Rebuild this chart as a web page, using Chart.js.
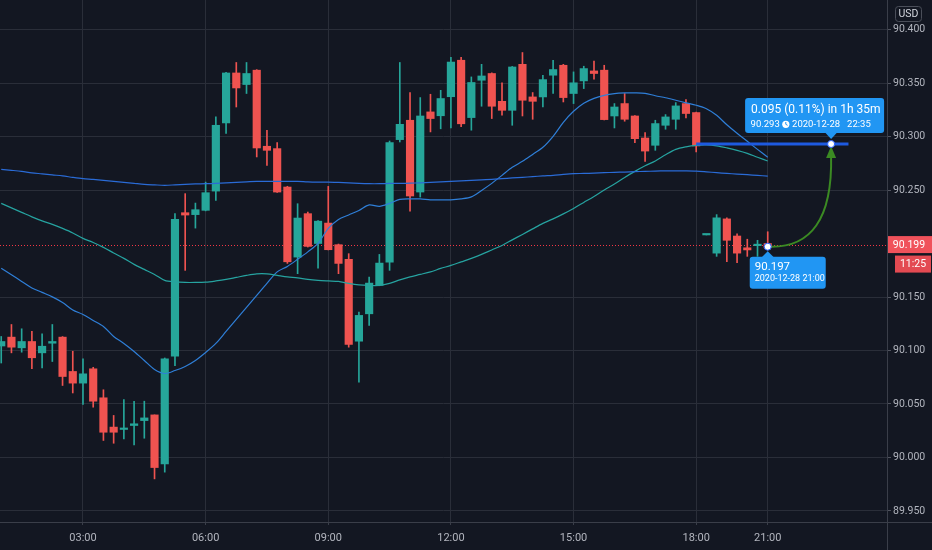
<!DOCTYPE html>
<html><head><meta charset="utf-8">
<script src="https://cdn.jsdelivr.net/npm/chart.js@4.4.1/dist/chart.umd.min.js"></script>
<style>html,body{margin:0;padding:0;background:#131722;overflow:hidden}canvas{display:block}</style>
</head><body>
<canvas id="c" width="932" height="550"></canvas>
<script>
// ---- DATA (15-minute candles, index 0 = 01:00) ----
const openP = [90.1042,90.1125,90.1025,90.1084,90.0978,90.1068,90.1125,90.0804,90.0695,90.0829,
90.0558,90.0284,90.0262,90.0299,90.0345,90.0398,89.9941,90.0947,90.2288,90.2270,
90.2310,90.2490,90.3127,90.3594,90.3486,90.3620,90.2909,90.2887,90.2528,90.1873,
90.2279,90.2000,90.2191,90.1989,90.1852,90.1087,90.1343,90.1608,90.1826,90.2971,
90.3152,90.2481,90.3230,90.3194,90.3372,90.3713,90.3177,90.3526,90.3589,90.3329,
90.3245,90.3675,90.3370,90.3370,90.3573,90.3666,90.3402,90.3520,90.3613,90.3620,
90.3192,90.3308,90.3192,90.2986,90.2918,90.3105,90.3161,90.3308,90.3224,90.2080,
90.1910,90.2230,90.2070,90.1960,90.1980,90.2000];
const highP = [90.1131,90.1243,90.1203,90.1178,90.1156,90.1243,90.1130,90.0993,90.0922,90.0843,
90.0633,90.0393,90.0542,90.0526,90.0526,90.0398,90.0930,90.2279,90.2466,90.2378,
90.2574,90.3183,90.3600,90.3692,90.3692,90.3625,90.3059,90.2943,90.2535,90.2372,
90.2294,90.2215,90.2534,90.1995,90.1905,90.1359,90.1686,90.1898,90.2958,90.3692,
90.3411,90.3364,90.3395,90.3432,90.3741,90.3741,90.3557,90.3675,90.3595,90.3501,
90.3655,90.3785,90.3411,90.3573,90.3713,90.3675,90.3604,90.3657,90.3704,90.3666,
90.3308,90.3402,90.3195,90.3036,90.3152,90.3205,90.3317,90.3346,90.3228,90.2080,
90.2270,90.2240,90.2090,90.2040,90.2030,90.2110];
const lowP = [90.0883,90.0978,90.0984,90.0829,90.0838,90.0897,90.0673,90.0603,90.0495,90.0470,
90.0159,90.0133,90.0174,90.0118,90.0180,89.9800,89.9863,90.0859,90.1749,90.2144,
90.2305,90.2403,90.3028,90.3276,90.3402,90.2809,90.2731,90.2478,90.1814,90.1718,
90.1967,90.1770,90.1940,90.1718,90.1031,90.0704,90.1234,90.1605,90.1749,90.2949,
90.2303,90.2434,90.3043,90.3072,90.3081,90.3091,90.3059,90.3283,90.3168,90.3199,
90.3105,90.3192,90.3161,90.3276,90.3402,90.3323,90.3308,90.3448,90.3536,90.3155,
90.3080,90.3143,90.2943,90.2768,90.2871,90.3068,90.3068,90.3173,90.2856,90.2080,
90.1880,90.1830,90.1820,90.1880,90.1880,90.1950];
const closeP = [90.1084,90.1031,90.1084,90.0932,90.1040,90.1084,90.0757,90.0695,90.0782,90.0526,
90.0236,90.0236,90.0274,90.0315,90.0370,89.9906,90.0922,90.2226,90.2266,90.2316,
90.2475,90.3105,90.3594,90.3454,90.3589,90.2893,90.2871,90.2481,90.1829,90.2238,
90.1973,90.2209,90.1942,90.1814,90.1056,90.1328,90.1630,90.1817,90.2943,90.3114,
90.2444,90.3192,90.3168,90.3355,90.3696,90.3119,90.3505,90.3566,90.3283,90.3245,
90.3650,90.3339,90.3329,90.3532,90.3626,90.3364,90.3502,90.3635,90.3589,90.3158,
90.3276,90.3161,90.2980,90.2864,90.3121,90.3183,90.3286,90.3215,90.2912,90.2080,
90.2240,90.2030,90.1910,90.1940,90.1990,90.1960];

// moving averages
const maLong = [90.2693,90.2684,90.2674,90.2660,90.2651,90.2641,90.2632,90.2618,90.2606,90.2599,
90.2590,90.2581,90.2571,90.2562,90.2553,90.2548,90.2544,90.2548,90.2553,90.2557,
90.2559,90.2562,90.2567,90.2571,90.2576,90.2581,90.2581,90.2581,90.2581,90.2581,
90.2576,90.2574,90.2574,90.2571,90.2567,90.2562,90.2559,90.2559,90.2562,90.2562,
90.2564,90.2567,90.2571,90.2576,90.2581,90.2585,90.2590,90.2595,90.2599,90.2606,
90.2613,90.2618,90.2625,90.2632,90.2637,90.2646,90.2653,90.2655,90.2658,90.2662,
90.2665,90.2668,90.2672,90.2674,90.2677,90.2679,90.2679,90.2679,90.2677,90.2670,
90.2662,90.2655,90.2649,90.2643,90.2637,90.2630];
const maMid = [90.2375,90.2333,90.2291,90.2249,90.2211,90.2179,90.2141,90.2099,90.2048,90.2010,
90.1964,90.1912,90.1861,90.1805,90.1758,90.1711,90.1655,90.1641,90.1636,90.1636,
90.1639,90.1650,90.1664,90.1683,90.1702,90.1716,90.1716,90.1702,90.1688,90.1678,
90.1664,90.1655,90.1650,90.1646,90.1627,90.1613,90.1608,90.1608,90.1627,90.1660,
90.1688,90.1711,90.1735,90.1767,90.1795,90.1828,90.1861,90.1898,90.1940,90.1982,
90.2034,90.2085,90.2137,90.2188,90.2230,90.2277,90.2328,90.2384,90.2440,90.2501,
90.2557,90.2618,90.2674,90.2726,90.2772,90.2829,90.2880,90.2904,90.2918,90.2922,
90.2913,90.2894,90.2871,90.2843,90.2806,90.2771];
const maShort = [90.1768,90.1707,90.1646,90.1585,90.1543,90.1501,90.1449,90.1379,90.1337,90.1281,
90.1225,90.1131,90.1066,90.0991,90.0907,90.0823,90.0785,90.0813,90.0851,90.0907,
90.0981,90.1066,90.1178,90.1290,90.1403,90.1515,90.1627,90.1735,90.1786,90.1852,
90.1922,90.2001,90.2141,90.2225,90.2267,90.2309,90.2361,90.2347,90.2375,90.2412,
90.2417,90.2417,90.2408,90.2408,90.2408,90.2417,90.2436,90.2496,90.2562,90.2637,
90.2712,90.2768,90.2833,90.2899,90.3002,90.3133,90.3236,90.3311,90.3357,90.3385,
90.3401,90.3407,90.3408,90.3404,90.3381,90.3362,90.3339,90.3315,90.3292,90.3259,
90.3198,90.3110,90.3030,90.2955,90.2880,90.2806];

const tickIndex  = [8, 20, 32, 44, 56, 68, 75];
const tickLabels = ['03:00','06:00','09:00','12:00','15:00','18:00','21:00'];
const yTicks = [89.95,90.00,90.05,90.10,90.15,90.20,90.25,90.30,90.35,90.40];

const currentPrice = 90.199;
const countdown = '11:25';
const hLine = {from: 68, to: 82.9, price: 90.293};
const measureFrom = {index: 75, price: 90.197, date: '2020-12-28 21:00'};
const measureTo = {index: 81.2, price: 90.293, date: '2020-12-28', time: '22:35'};
const measureText = '0.095 (0.11%) in 1h 35m';

// ---- STYLE ----
const UP = '#26a69a', DOWN = '#ef5350';
const FONT = 'Roboto, "Liberation Sans", sans-serif';
const GRID = '#2a2e39', BORDER = '#3a3e49';
Chart.defaults.font.family = FONT;
Chart.defaults.color = '#b2b5be';

const candleColor = closeP.map((c, i) => c >= openP[i] ? UP : DOWN);

function rr(ctx, x, y, w, h, r) {
  ctx.beginPath();
  ctx.moveTo(x + r, y); ctx.lineTo(x + w - r, y); ctx.quadraticCurveTo(x + w, y, x + w, y + r);
  ctx.lineTo(x + w, y + h - r); ctx.quadraticCurveTo(x + w, y + h, x + w - r, y + h);
  ctx.lineTo(x + r, y + h); ctx.quadraticCurveTo(x, y + h, x, y + h - r);
  ctx.lineTo(x, y + r); ctx.quadraticCurveTo(x, y, x + r, y); ctx.closePath();
}

const overlay = {
  id: 'overlay',
  beforeDatasetsDraw(chart) {
    const {ctx, chartArea: a, scales: {y}} = chart;
    const py = Math.round(y.getPixelForValue(currentPrice)) + 0.5;
    ctx.save();
    ctx.strokeStyle = '#f23645'; ctx.lineWidth = 1; ctx.setLineDash([1, 2]);
    ctx.beginPath(); ctx.moveTo(a.left, py); ctx.lineTo(a.right, py); ctx.stroke();
    ctx.restore();
  },
  afterDatasetsDraw(chart) {
    const {ctx, scales: {x, y}} = chart;
    ctx.save();
    // horizontal line
    const hy = y.getPixelForValue(hLine.price);
    ctx.strokeStyle = '#1e5ae0'; ctx.lineWidth = 3;
    ctx.beginPath(); ctx.moveTo(x.getPixelForValue(hLine.from), hy); ctx.lineTo(x.getPixelForValue(hLine.to), hy); ctx.stroke();
    // arrow
    const sx = x.getPixelForValue(measureFrom.index), sy = y.getPixelForValue(measureFrom.price);
    const tx = x.getPixelForValue(measureTo.index), ty = y.getPixelForValue(measureTo.price);
    ctx.strokeStyle = '#3b8a23'; ctx.lineWidth = 2;
    ctx.beginPath(); ctx.moveTo(sx, sy); ctx.quadraticCurveTo(tx + 2, sy + 3, tx, ty + 12); ctx.stroke();
    ctx.fillStyle = '#3b8a23';
    ctx.beginPath(); ctx.moveTo(tx, ty + 2); ctx.lineTo(tx - 5, ty + 14); ctx.lineTo(tx + 5, ty + 14); ctx.closePath(); ctx.fill();
    for (const [px, py] of [[sx, sy], [tx, ty]]) {
      ctx.beginPath(); ctx.arc(px, py, 3.5, 0, Math.PI * 2);
      ctx.fillStyle = '#ffffff'; ctx.fill();
      ctx.lineWidth = 1; ctx.strokeStyle = '#2962ff'; ctx.stroke();
    }
    // top label box
    const BLUE = '#2196f3';
    ctx.fillStyle = BLUE;
    rr(ctx, tx - 86, ty - 46, 139, 35, 3); ctx.fill();
    ctx.beginPath(); ctx.moveTo(tx - 6, ty - 11.5); ctx.lineTo(tx, ty - 5); ctx.lineTo(tx + 6, ty - 11.5); ctx.closePath(); ctx.fill();
    ctx.fillStyle = '#ffffff'; ctx.textBaseline = 'middle'; ctx.textAlign = 'left';
    ctx.font = '12px ' + FONT;
    ctx.fillText(measureText, tx - 80, ty - 34.5);
    ctx.font = '9.5px ' + FONT;
    ctx.fillText(measureTo.price.toFixed(3), tx - 80.5, ty - 19.5);
    const cx = tx - 45.3, cy = ty - 19.7;
    ctx.beginPath(); ctx.arc(cx, cy, 3.6, 0, Math.PI * 2); ctx.fill();
    ctx.strokeStyle = BLUE; ctx.lineWidth = 1;
    ctx.beginPath(); ctx.moveTo(cx, cy - 2.3); ctx.lineTo(cx, cy); ctx.lineTo(cx + 1.8, cy + 1); ctx.stroke();
    ctx.fillText(measureTo.date, tx - 39, ty - 19.5);
    ctx.fillText(measureTo.time, tx + 16, ty - 19.5);
    // bottom label box
    ctx.fillStyle = BLUE;
    rr(ctx, sx - 18, sy + 10, 76, 32, 3); ctx.fill();
    ctx.beginPath(); ctx.moveTo(sx - 6, sy + 10.5); ctx.lineTo(sx, sy + 4.5); ctx.lineTo(sx + 6, sy + 10.5); ctx.closePath(); ctx.fill();
    ctx.fillStyle = '#ffffff';
    ctx.font = '11.5px ' + FONT;
    ctx.fillText(measureFrom.price.toFixed(3), sx - 13, sy + 20);
    ctx.font = '9px ' + FONT;
    ctx.fillText(measureFrom.date, sx - 13, sy + 32);
    ctx.restore();
  },
  afterDraw(chart) {
    const {ctx, chartArea: a, scales: {y}} = chart;
    ctx.save();
    // axis separators across the full canvas
    ctx.strokeStyle = BORDER; ctx.lineWidth = 1;
    ctx.beginPath(); ctx.moveTo(a.right + 0.5, 0); ctx.lineTo(a.right + 0.5, 550); ctx.stroke();
    ctx.beginPath(); ctx.moveTo(0, a.bottom + 0.5); ctx.lineTo(932, a.bottom + 0.5); ctx.stroke();
    // current price label
    const py = y.getPixelForValue(currentPrice);
    ctx.fillStyle = '#f0525b';
    ctx.fillRect(a.right + 1, py - 8.5, 44, 17);
    ctx.fillStyle = '#e34a52';
    ctx.fillRect(a.right + 8, py + 11, 36, 17);
    ctx.fillStyle = '#ffffff'; ctx.textAlign = 'center'; ctx.textBaseline = 'middle';
    ctx.font = '10.5px ' + FONT;
    ctx.fillText(currentPrice.toFixed(3), a.right + 22, py + 0.5);
    ctx.fillText(countdown, a.right + 26, py + 19.5);
    // currency box
    ctx.strokeStyle = '#4a4e59'; ctx.lineWidth = 1;
    rr(ctx, 895.5, 6.5, 26, 15, 3); ctx.stroke();
    ctx.fillStyle = '#d1d4dc'; ctx.font = '10.5px ' + FONT;
    ctx.fillText('USD', 908.5, 14.5);
    ctx.restore();
  }
};

const lineDs = (data, color) => ({
  type: 'line', data: data.map((v, i) => ({x: i, y: v})),
  borderColor: color, borderWidth: 1.2, pointRadius: 0, tension: 0.3, order: 0
});

new Chart(document.getElementById('c'), {
  data: {
    datasets: [
      lineDs(maLong, '#2a6bd6'),
      lineDs(maMid, '#26a3a0'),
      lineDs(maShort, '#2f7fd8'),
      {
        type: 'bar', data: openP.map((o, i) => ({x: i, y: [Math.min(o, closeP[i]), Math.max(o, closeP[i])]})),
        backgroundColor: candleColor, borderWidth: 0, barThickness: 7.5, minBarLength: 1.5, grouped: false, order: 1
      },
      {
        type: 'bar', data: lowP.map((l, i) => ({x: i, y: [l, highP[i]]})),
        backgroundColor: candleColor, borderWidth: 0, barThickness: 1, minBarLength: 0, grouped: false, order: 2
      }
    ]
  },
  options: {
    responsive: false, animation: false, devicePixelRatio: 1,
    layout: {padding: 0},
    plugins: {legend: {display: false}, tooltip: {enabled: false}},
    scales: {
      x: {
        type: 'linear', min: -0.12, max: 86.67, offset: false,
        afterBuildTicks: axis => { axis.ticks = tickIndex.map(v => ({value: v})); },
        afterFit: axis => { axis.height = 28; axis.paddingLeft = 0; axis.paddingRight = 0; },
        grid: {color: GRID, offset: false, drawTicks: true, tickLength: 3, tickColor: BORDER},
        border: {color: BORDER},
        ticks: {
          autoSkip: false, maxRotation: 0, padding: 7, color: '#b2b5be', font: {size: 11},
          callback: v => tickLabels[tickIndex.indexOf(v)]
        }
      },
      y: {
        type: 'linear', position: 'right', min: 89.9397, max: 90.4276,
        afterBuildTicks: axis => { axis.ticks = yTicks.map(v => ({value: v})); },
        afterFit: axis => { axis.width = 45; axis.paddingTop = 0; axis.paddingBottom = 0; },
        grid: {
          color: c => (c.tick && Math.abs(c.tick.value - 90.20) < 1e-6) ? 'rgba(0,0,0,0)' : GRID,
          drawTicks: true, tickLength: 4, tickColor: '#50535e'
        },
        border: {color: BORDER},
        ticks: {padding: 2, color: '#b2b5be', font: {size: 10.5}, callback: v => v.toFixed(3)}
      }
    }
  },
  plugins: [overlay]
});
</script>
</body></html>
